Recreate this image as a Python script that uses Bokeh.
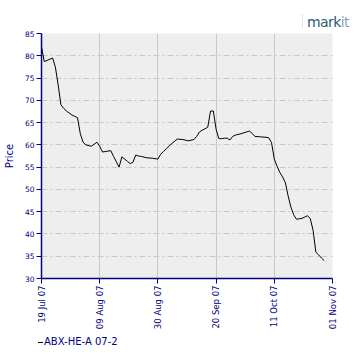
from datetime import datetime, timedelta
import math
from bokeh.plotting import figure
from bokeh.models import Range1d, FixedTicker, Div
from bokeh.layouts import column
from bokeh.embed import file_html
from bokeh.resources import INLINE

# ---- data ----
start_date = "2007-07-19"
day_offsets = [0, 1, 4, 5, 6, 7, 8, 9, 11, 12, 13, 14, 15, 16, 18, 20, 21, 22, 23, 25,
               26, 27, 28, 29, 31, 32, 33, 34, 35, 36, 38, 40, 42, 43, 44, 45, 47, 49, 51, 53,
               55, 56, 57, 58, 59, 60, 61, 62, 63, 64, 65, 66, 67, 68, 69, 70, 72, 74, 75, 76,
               77, 79, 81, 82, 83, 84, 85, 86, 87, 88, 89, 90, 91, 92, 93, 94, 95, 96, 97, 98,
               99, 100, 101, 102]
prices = [82.0, 78.7, 79.5, 77.5, 73.5, 69.0, 68.2, 67.6, 66.7, 66.4, 66.1, 62.5, 60.6, 60.0, 59.7, 60.6, 59.7, 58.4, 58.5, 58.7,
          57.4, 56.2, 55.0, 57.3, 56.3, 55.8, 56.1, 57.7, 57.5, 57.4, 57.1, 57.0, 56.8, 57.9, 58.5, 59.1, 60.3, 61.3, 61.2, 60.9,
          61.2, 61.9, 62.9, 63.3, 63.6, 64.0, 67.6, 67.6, 63.5, 61.4, 61.4, 61.5, 61.5, 61.1, 61.9, 62.2, 62.5, 62.9, 63.1, 62.6,
          61.9, 61.8, 61.7, 61.6, 60.5, 56.8, 55.2, 53.8, 52.8, 51.5, 48.5, 46.0, 44.3, 43.3, 43.4, 43.5, 43.8, 44.1, 43.4, 40.8,
          35.9, 35.3, 34.6, 34.0]
series_name = "ABX-HE-A 07-2"
x_tick_labels = ["19 Jul 07", "09 Aug 07", "30 Aug 07", "20 Sep 07", "11 Oct 07", "01 Nov 07"]
y_ticks = [30, 35, 40, 45, 50, 55, 60, 65, 70, 75, 80, 85]

base = datetime.strptime(start_date, "%Y-%m-%d")
dates = [base + timedelta(days=d) for d in day_offsets]
tick_dates = [datetime.strptime(s, "%d %b %y") for s in x_tick_labels]
epoch = datetime(1970, 1, 1)
tick_ms = [(d - epoch).total_seconds() * 1000.0 for d in tick_dates]

NAVY = "#000080"
GRID = "#c8c8c8"

# logo above the chart
logo = Div(width=355, height=28, margin=0,
           text=('<div style="padding-left:302px; padding-top:16px; font-family:\'DejaVu Sans\'; '
                 'font-size:14px; line-height:12px; letter-spacing:-0.6px; white-space:nowrap;">'
                 '<span style="border-left:1px solid #e4e4e4; padding-left:4px; color:#2b5b72;">mark</span>'
                 '<span style="color:#7fa7b3;">it</span></div>'))

p = figure(width=355, height=305, x_axis_type="datetime",
           x_range=Range1d(tick_dates[0], tick_dates[-1]),
           y_range=Range1d(y_ticks[0], y_ticks[-1]),
           output_backend="svg", toolbar_location=None, margin=0,
           min_border_left=36, min_border_right=23, min_border_top=5, min_border_bottom=55)

p.background_fill_color = "#eeeeee"
p.border_fill_color = "white"
p.outline_line_color = None

r = p.line(dates, prices, line_color="black", line_width=1)

for ax in (p.xaxis[0], p.yaxis[0]):
    ax.axis_line_color = NAVY
    ax.axis_line_width = 1.5
    ax.major_tick_line_color = NAVY
    ax.major_tick_out = 5
    ax.major_tick_in = 0
    ax.minor_tick_line_color = None
    ax.major_label_text_color = NAVY
    ax.major_label_text_font = "DejaVu Sans"
    ax.major_label_standoff = 2

p.xaxis.major_label_text_font_size = "8.5px"
p.yaxis.major_label_text_font_size = "7.5px"
p.xaxis.ticker = FixedTicker(ticks=tick_ms)
p.xaxis.major_label_overrides = {t: s for t, s in zip(tick_ms, x_tick_labels)}
p.xaxis.major_label_orientation = math.pi / 2
p.yaxis.ticker = FixedTicker(ticks=y_ticks)

p.yaxis.axis_label = "Price"
p.yaxis.axis_label_text_color = NAVY
p.yaxis.axis_label_text_font = "DejaVu Sans"
p.yaxis.axis_label_text_font_size = "10px"
p.yaxis.axis_label_text_font_style = "normal"
p.yaxis.axis_label_standoff = 7

p.xgrid.grid_line_color = GRID
p.ygrid.grid_line_color = GRID
p.ygrid.grid_line_dash = "6 3 2 3"

# legend line below the chart
legend_div = Div(width=355, height=20, margin=0,
                 text=('<div style="padding-left:38px; padding-top:4px; font-family:\'DejaVu Sans\'; '
                       'font-size:10px; line-height:9px; color:#000080; white-space:nowrap;">'
                       '<span style="display:inline-block; width:5px; height:1px; background:#000000; '
                       'vertical-align:middle; margin-right:1px;"></span>' + series_name + '</div>'))

open("out.html", "w").write(file_html(column(logo, p, legend_div, spacing=0), INLINE))
